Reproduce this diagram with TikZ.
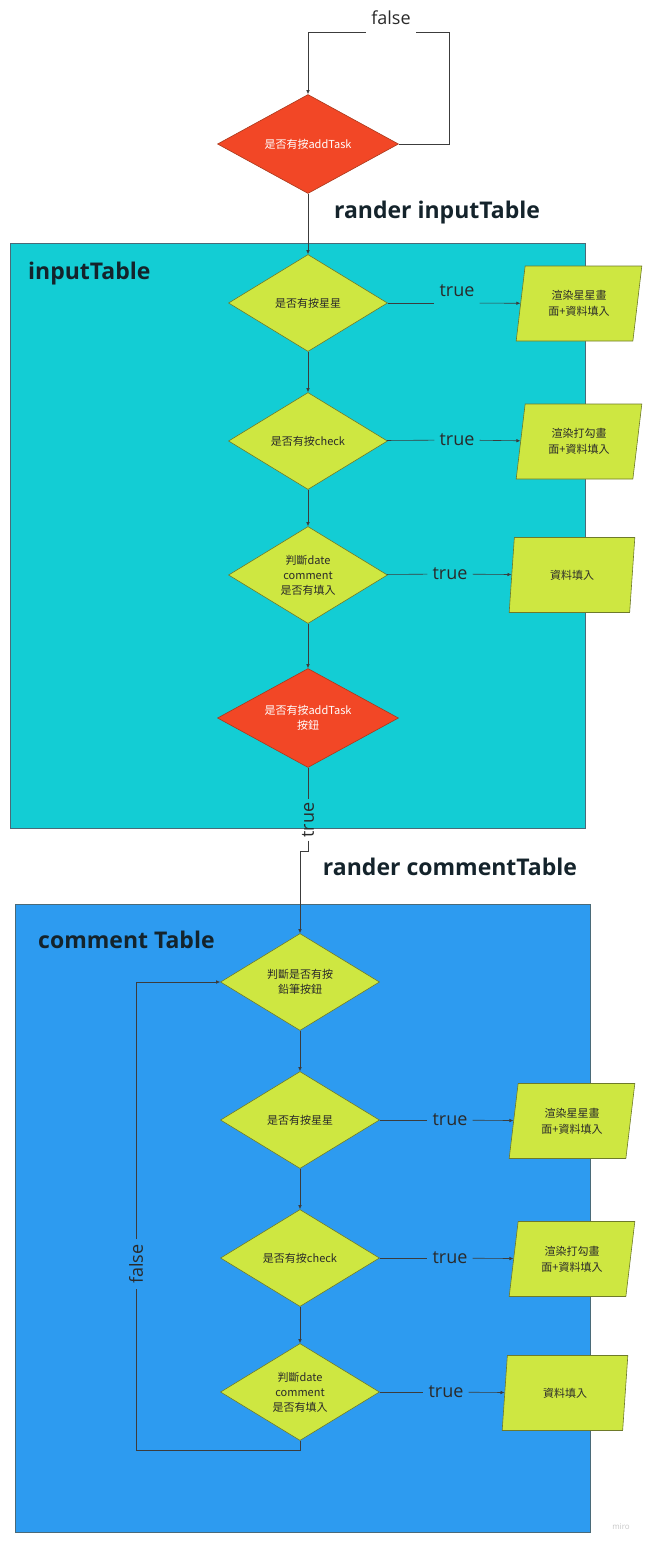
\documentclass[tikz,border=0pt]{standalone}
\usepackage{fontspec}
\setmainfont{Open Sans}
\newfontfamily\cjk{Noto Sans CJK TC}
\usetikzlibrary{shapes.geometric,arrows.meta}
\definecolor{cyanbg}{HTML}{13CDD4}
\definecolor{bluebg}{HTML}{2D9BF0}
\definecolor{ygr}{HTML}{CEE741}
\definecolor{rd}{HTML}{F24726}
\definecolor{ydraw}{HTML}{6E7A2A}
\definecolor{rdraw}{HTML}{A8391C}
\definecolor{lncol}{HTML}{3C3C3C}
\definecolor{txtdark}{HTML}{2A2A2A}
\definecolor{titlecol}{HTML}{14232B}
\definecolor{boxdraw}{HTML}{4A6A78}
\tikzset{
  ln/.style={draw=lncol, line width=0.6pt},
  arr/.style={ln, -{Latex[length=4pt,width=3.5pt]}},
  ydia/.style={diamond, aspect=1.65, fill=ygr, draw=ydraw, line width=0.6pt, minimum width=159pt,
    minimum height=97pt, inner sep=0pt, align=center,
    font=\cjk\fontsize{11}{15}\selectfont, text=txtdark},
  rdia/.style={ydia, aspect=1.83, fill=rd, draw=rdraw, minimum width=181pt, minimum height=99pt, text=white},
  para/.style={trapezium, trapezium left angle=79, trapezium right angle=101,
    trapezium stretches=true, minimum width=126pt, minimum height=75pt, inner sep=0pt,
    fill=ygr, draw=ydraw, line width=0.6pt, align=center,
    font=\cjk\fontsize{11}{16}\selectfont, text=txtdark},
  lbl/.style={font=\fontsize{18}{21}\selectfont, text=txtdark, inner xsep=5pt, inner ysep=1pt},
  gap/.style={inner sep=0pt, minimum height=1pt},
  ttl/.style={font=\bfseries\fontsize{23}{27}\selectfont, text=titlecol, inner sep=0pt},
  region/.style={draw=boxdraw, line width=0.6pt}
}
\begin{document}
\begin{tikzpicture}[x=1pt,y=-1pt]
\useasboundingbox (0,0) rectangle (646,1545);
% regions
\draw[region, fill=cyanbg] (10,243) rectangle (585,828);
\draw[region, fill=bluebg] (15,904) rectangle (590,1532);
% titles
\node[ttl] (tin) at (437,213) {rander inputTable};
\node[ttl, anchor=west] (tinbox) at (28,274) {inputTable};
\node[ttl] (tcm) at (450,867) {rander commentTable};
\node[ttl, anchor=west] (tcmbox) at (38,940) {comment Table};
% top
\node[rdia] (r1) at (308,144) {是否有按addTask};
\coordinate (loopR) at (449,32);
\node[gap, minimum width=50pt, label={[lbl, label distance=5pt]above:false}] (fl0) at (391,32) {};
\draw[ln] (r1) -| (loopR) -- (fl0);
\draw[arr] (fl0) -| (r1);
% inputTable
\node[ydia] (d1) at (308,303) {是否有按星星};
\node[ydia] (d2) at (308,441) {是否有按check};
\node[ydia] (d3) at (308,575) {判斷date\\comment\\是否有填入};
\node[rdia] (r2) at (308,718) {是否有按addTask\\按鈕};
\node[para] (p1) at (579,303.5) {渲染星星畫\\面+資料填入};
\node[para] (p2) at (579,441.5) {渲染打勾畫\\面+資料填入};
\node[para] (p3) at (572,575) {資料填入};
\draw[arr] (r1) -- (d1);
\draw[arr] (d1) -- (d2);
\draw[arr] (d2) -- (d3);
\draw[arr] (d3) -- (r2);
\node[gap, minimum width=45pt, label={[lbl, label distance=4pt]above:true}] (t1) at (457,303) {};
\node[lbl] (t2) at (457,440) {true};
\node[lbl] (t3) at (450,574) {true};
\draw[ln] (d1) -- (t1); \draw[arr] (t1) -- (p1);
\draw[ln] (d2) -- (t2); \draw[arr] (t2) -- (p2);
\draw[ln] (d3) -- (t3); \draw[arr] (t3) -- (p3);
% link to comment table
\node[lbl, rotate=90, inner xsep=3pt] (tv) at (308,820) {true};
\coordinate (bend) at (300,851);
\draw[ln] (r2) -- (tv);
% comment table
\node[ydia] (c1) at (300,982) {判斷是否有按\\鉛筆按鈕};
\node[ydia] (c2) at (300,1120) {是否有按星星};
\node[ydia] (c3) at (300,1258) {是否有按check};
\node[ydia] (c4) at (300,1392) {判斷date\\comment\\是否有填入};
\draw[arr] (tv) |- (bend) -- (c1);
\node[para] (q1) at (572,1121) {渲染星星畫\\面+資料填入};
\node[para] (q2) at (572,1259) {渲染打勾畫\\面+資料填入};
\node[para] (q3) at (565,1393) {資料填入};
\draw[arr] (c1) -- (c2);
\draw[arr] (c2) -- (c3);
\draw[arr] (c3) -- (c4);
\node[lbl] (tc2) at (450,1120) {true};
\node[lbl] (tc3) at (450,1258) {true};
\node[lbl] (tc4) at (446,1392) {true};
\draw[ln] (c2) -- (tc2); \draw[arr] (tc2) -- (q1);
\draw[ln] (c3) -- (tc3); \draw[arr] (tc3) -- (q2);
\draw[ln] (c4) -- (tc4); \draw[arr] (tc4) -- (q3);
% false loop
\coordinate (fb) at (136,1450);
\node[lbl, rotate=90] (fv) at (136,1264) {false};
\draw[ln] (c4) |- (fb) -- (fv);
\draw[arr] (fv) |- (c1);
% watermark
\node[font=\fontsize{8}{9}\selectfont, text=black!22] (miro) at (621,1527) {miro};
\end{tikzpicture}
\end{document}
